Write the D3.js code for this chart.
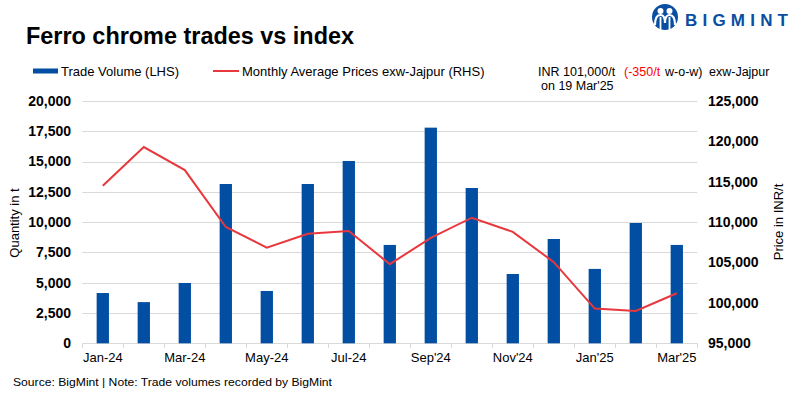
<!DOCTYPE html>
<meta charset="utf-8">
<style>
body { margin: 0; background: #fff; }
text { font-family: "Liberation Sans", Arial, sans-serif; fill: #000; }
.grid line { stroke: #d9d9d9; stroke-width: 1px; }
.axis-lbl { font-size: 14px; font-weight: bold; }
.xlbl { font-size: 13px; }
</style>
<body>
<script src="https://cdn.jsdelivr.net/npm/d3@7"></script>
<script>

// months on the x axis
var months = ["Jan-24", "Feb-24", "Mar-24", "Apr-24", "May-24", "Jun-24", "Jul-24", "Aug-24",
              "Sep'24", "Oct'24", "Nov'24", "Dec'24", "Jan'25", "Feb'25", "Mar'25"];
// only every other month is labelled
var monthLabels = ["Jan-24", "Mar-24", "May-24", "Jul-24", "Sep'24", "Nov'24", "Jan'25", "Mar'25"];

// trade volume, t (LHS)
var volume = [4150, 3400, 4980, 13150, 4320, 13150, 15050, 8120,
              17800, 12820, 5720, 8610, 6140, 9930, 8120];

// monthly avg price exw-Jajpur, INR/t (RHS)
var price = [114500, 119300, 116450, 109400, 106850, 108550, 108900, 104800,
             108050, 110550, 108800, 105050, 99300, 99000, 101200];

var leftTicks = [0, 2500, 5000, 7500, 10000, 12500, 15000, 17500, 20000];
var rightTicks = [95000, 100000, 105000, 110000, 115000, 120000, 125000];

var width = 799,
    height = 398;

var svg = d3.select("body").append("svg")
    .attr("width", width)
    .attr("height", height);

var x = d3.scaleBand()
    .domain(months)
    .range([82.3, 697.3])
    .paddingInner(0.7)
    .paddingOuter(0.35);

var y = d3.scaleLinear().domain([0, 20000]).range([343.3, 101]);
var y2 = d3.scaleLinear().domain([95000, 125000]).range([343.3, 101]);

var fmt = d3.format(",");

// gridlines
svg.append("g").attr("class", "grid")
  .selectAll("line")
  .data(leftTicks)
  .enter().append("line")
    .attr("x1", 82.3)
    .attr("x2", 697.3)
    .attr("y1", function(d) { return Math.round(y(d)) + 0.5; })
    .attr("y2", function(d) { return Math.round(y(d)) + 0.5; });

// x axis tick marks at category boundaries
var bounds = months.map(function(m) { return x(m) - x.step() * 0.35; });
bounds.push(697.3);
svg.append("g").attr("class", "grid")
  .selectAll("line")
  .data(bounds)
  .enter().append("line")
    .attr("x1", function(d) { return Math.round(d) + 0.5; })
    .attr("x2", function(d) { return Math.round(d) + 0.5; })
    .attr("y1", 343.5)
    .attr("y2", 348);

// bars
svg.append("g").selectAll("rect")
  .data(volume)
  .enter().append("rect")
    .attr("x", function(d, i) { return x(months[i]); })
    .attr("width", x.bandwidth())
    .attr("y", function(d) { return y(d); })
    .attr("height", function(d) { return y(0) - y(d); })
    .attr("fill", "#024ea2");

// price line
var line = d3.line()
    .x(function(d, i) { return x(months[i]) + x.bandwidth() / 2; })
    .y(function(d) { return y2(d); });

svg.append("path")
    .datum(price)
    .attr("d", line)
    .attr("fill", "none")
    .attr("stroke", "#e8383d")
    .attr("stroke-width", 2);

// left axis labels
svg.append("g").selectAll("text")
  .data(leftTicks)
  .enter().append("text")
    .attr("class", "axis-lbl")
    .attr("x", 71)
    .attr("y", function(d) { return y(d); })
    .attr("dy", "0.35em")
    .attr("text-anchor", "end")
    .text(fmt);

// right axis labels
svg.append("g").selectAll("text")
  .data(rightTicks)
  .enter().append("text")
    .attr("class", "axis-lbl")
    .attr("x", 708)
    .attr("y", function(d) { return y2(d); })
    .attr("dy", "0.35em")
    .text(fmt);

// x labels
svg.append("g").selectAll("text")
  .data(monthLabels)
  .enter().append("text")
    .attr("class", "xlbl")
    .attr("x", function(d) { return x(d) + x.bandwidth() / 2; })
    .attr("y", 362)
    .attr("text-anchor", "middle")
    .text(function(d) { return d; });

// axis titles
svg.append("text")
    .attr("transform", "translate(19,223) rotate(-90)")
    .attr("text-anchor", "middle")
    .style("font-size", "13px")
    .text("Quantity in t");

svg.append("text")
    .attr("transform", "translate(783,222) rotate(-90)")
    .attr("text-anchor", "middle")
    .style("font-size", "13px")
    .text("Price in INR/t");

// title
svg.append("text")
    .attr("x", 26)
    .attr("y", 44)
    .attr("textLength", 328)
    .attr("lengthAdjust", "spacingAndGlyphs")
    .style("font-size", "23px")
    .style("font-weight", "bold")
    .text("Ferro chrome trades vs index");

// legend
svg.append("rect")
    .attr("x", 33).attr("y", 68.5)
    .attr("width", 25).attr("height", 5)
    .attr("fill", "#024ea2");
svg.append("text")
    .attr("x", 61).attr("y", 76)
    .style("font-size", "13px")
    .text("Trade Volume (LHS)");

svg.append("line")
    .attr("x1", 213).attr("x2", 239)
    .attr("y1", 71).attr("y2", 71)
    .attr("stroke", "#e8383d")
    .attr("stroke-width", 2);
svg.append("text")
    .attr("x", 242).attr("y", 76)
    .style("font-size", "13px")
    .text("Monthly Average Prices exw-Jajpur (RHS)");

// latest price note
var noteStyle = function(t) { return t.style("font-size", "12.5px"); };
noteStyle(svg.append("text").attr("x", 538).attr("y", 76)).text("INR 101,000/t");
noteStyle(svg.append("text").attr("x", 624).attr("y", 76))
    .style("fill", "#ff0000").text("(-350/t");
noteStyle(svg.append("text").attr("x", 665).attr("y", 76)).text("w-o-w)");
noteStyle(svg.append("text").attr("x", 709).attr("y", 76)).text("exw-Jajpur");
noteStyle(svg.append("text").attr("x", 541).attr("y", 90)).text("on 19 Mar'25");

// source
svg.append("text")
    .attr("x", 13).attr("y", 386)
    .attr("textLength", 319)
    .attr("lengthAdjust", "spacingAndGlyphs")
    .style("font-size", "11.5px")
    .text("Source: BigMint | Note: Trade volumes recorded by BigMint");

// logo
var logo = svg.append("g").attr("transform", "translate(665,17)");
logo.append("circle").attr("r", 13).attr("fill", "#0a4ea2");
logo.append("circle").attr("cx", -4.5).attr("cy", -6).attr("r", 3).attr("fill", "#fff");
logo.append("circle").attr("cx", 4.5).attr("cy", -6).attr("r", 3).attr("fill", "#fff");
logo.append("path")
    .attr("d", "M-10,8 Q-10,-2 -4.5,-2 Q0,-2 0,6 Q0,-2 4.5,-2 Q10,-2 10,8")
    .attr("fill", "none")
    .attr("stroke", "#fff")
    .attr("stroke-width", 2.2);
logo.append("path")
    .attr("d", "M-4.5,0 L-4.5,13 M4.5,0 L4.5,13")
    .attr("stroke", "#fff")
    .attr("stroke-width", 1.8);
svg.append("text")
    .attr("x", 685).attr("y", 26)
    .attr("textLength", 103)
    .attr("lengthAdjust", "spacing")
    .style("font-size", "17px")
    .style("font-weight", "bold")
    .style("fill", "#0a4ea2")
    .text("BIGMINT");

</script>
